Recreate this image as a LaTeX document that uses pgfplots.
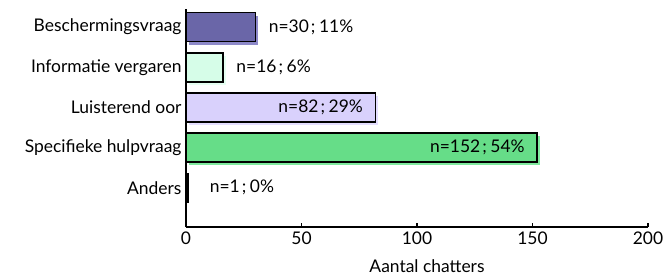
\documentclass[border=0pt]{standalone}
\usepackage{pgfplots}
\pgfplotsset{compat=1.18}
\usepackage{fontspec}
\setmainfont{Lato}
\usetikzlibrary{shadows}
\definecolor{cA}{HTML}{6A66A8}
\definecolor{cAs}{HTML}{8D89C9}
\definecolor{cB}{HTML}{D6FDE8}
\definecolor{cBs}{HTML}{E6FFF2}
\definecolor{cC}{HTML}{D9D1FC}
\definecolor{cCs}{HTML}{E4DEFF}
\definecolor{cD}{HTML}{66DD88}
\definecolor{cDs}{HTML}{7FEA9E}
\newcommand{\fs}{\fontsize{17.5}{20}\selectfont}
\newcommand{\sep}{\hspace{0.12em};\hspace{0.2em}}
\begin{document}
\begin{tikzpicture}[x=1bp,y=1bp]
\begin{axis}[at={(0,0)}, anchor=south west, scale only axis,
  width=462bp, height=218bp,
  xbar, bar shift=0pt, bar width=29bp,
  xmin=0, xmax=200, ymin=-0.975, ymax=4.45,
  axis x line=bottom, axis y line=left,
  axis line style={line width=1.5bp, -},
  xtick={0,50,100,150,200}, ytick={0,1,2,3,4},
  yticklabels={Anders,Specifieke hulpvraag,Luisterend oor,Informatie vergaren,Beschermingsvraag},
  y tick style={draw=none},
  x tick style={line width=1.2bp, black},
  tick align=inside, major tick length=4bp,
  xlabel={Aantal chatters},
  /pgf/number format/assume math mode=true,
  tick label style={font=\fs},
  label style={font=\fs},
  yticklabel style={xshift=-1bp},
  xticklabel style={yshift=-1bp},
  xlabel style={yshift=-9bp, xshift=10bp},
  clip=false,
]
\addplot[draw=black, line width=1.5bp, fill=cA, drop shadow={shadow xshift=3bp, shadow yshift=-3bp, fill=cAs, draw=none, opacity=1}] coordinates {(30,4)};
\addplot[draw=black, line width=1.5bp, fill=cB, drop shadow={shadow xshift=3bp, shadow yshift=-3bp, fill=cBs, draw=none, opacity=1}] coordinates {(16,3)};
\addplot[draw=black, line width=1.5bp, fill=cC, drop shadow={shadow xshift=3bp, shadow yshift=-3bp, fill=cCs, draw=none, opacity=1}] coordinates {(82,2)};
\addplot[draw=black, line width=1.5bp, fill=cD, drop shadow={shadow xshift=3bp, shadow yshift=-3bp, fill=cDs, draw=none, opacity=1}] coordinates {(152,1)};
\addplot[draw=black, line width=1.5bp, fill=black] coordinates {(1,0)};
\node[anchor=west, font=\fs] at (axis cs:30,4) [xshift=10bp] {n=30\sep11\%};
\node[anchor=west, font=\fs] at (axis cs:16,3) [xshift=10bp] {n=16\sep6\%};
\node[anchor=east, font=\fs] at (axis cs:82,2) [xshift=-9bp] {n=82\sep29\%};
\node[anchor=east, font=\fs] at (axis cs:152,1) [xshift=-9bp] {n=152\sep54\%};
\node[anchor=west, font=\fs] at (axis cs:1,0) [xshift=18bp] {n=1\sep0\%};
\end{axis}
\pgfresetboundingbox
\path (-186,-49) rectangle (478,227);
\end{tikzpicture}
\end{document}
